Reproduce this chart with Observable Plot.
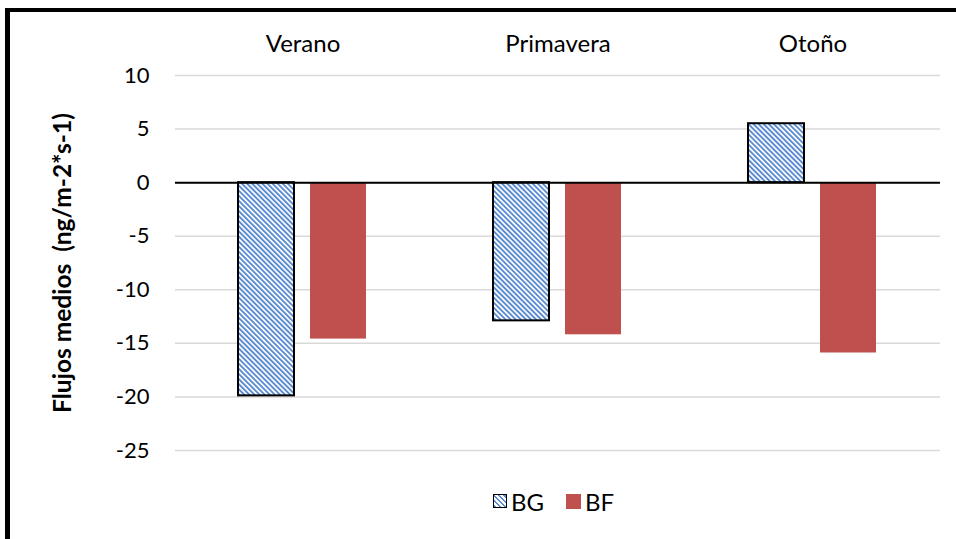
<!DOCTYPE html>
<html><head><meta charset="utf-8">
<script src="https://cdn.jsdelivr.net/npm/d3@7"></script>
<script src="https://cdn.jsdelivr.net/npm/@observablehq/plot@0.6"></script>
<style>
body{margin:0;background:#fff;font-family:Lato,"Open Sans",sans-serif;color:#000;}
#wrap{position:relative;width:956px;height:539px;overflow:hidden;background:#fff;}
#frame{position:absolute;left:5px;top:8px;right:-10px;bottom:-10px;border-top:4px solid #000;border-left:5px solid #000;pointer-events:none;}
#chart{position:absolute;left:0;top:0;}
#ylabel{position:absolute;left:61px;top:263px;transform:translate(-50%,-50%) rotate(-90deg);white-space:pre;font-weight:bold;font-size:24.5px;}
#legend{position:absolute;left:493px;top:487px;height:28px;display:flex;align-items:center;font-size:24px;}
.sw{width:12px;height:12px;display:inline-block;margin-right:4px;}
.sw.bg{border:1.5px solid #000;background:repeating-linear-gradient(45deg,#5a8ad0 0 1.9px,#fff 1.9px 3.6px);}
.sw.bf{width:15px;height:15px;background:#c0504d;margin-left:22px;}
</style></head>
<body>
<div id="wrap">
  <div id="chart"></div>
  <div id="ylabel">Flujos medios  (ng/m-2*s-1)</div>
  <div id="legend"><span class="sw bg"></span><span>BG</span><span class="sw bf"></span><span>BF</span></div>
  <div id="frame"></div>
</div>
<script>
const seasons = ["Verano", "Primavera", "Otoño"];
const seriesNames = ["BG", "BF"];
const bgValues = [-19.9, -12.9, 5.5];
const bfValues = [-14.6, -14.2, -15.9];
const yTicks = [-25, -20, -15, -10, -5, 0, 5, 10];

const bgData = seasons.map((s, i) => ({season: s, series: "BG", value: bgValues[i]}));
const bfData = seasons.map((s, i) => ({season: s, series: "BF", value: bfValues[i]}));

const chart = Plot.plot({
  width: 956,
  height: 480,
  marginLeft: 174,
  marginRight: 16,
  marginTop: 75,
  marginBottom: 30,
  style: {fontFamily: "Lato, 'Open Sans', sans-serif", fontSize: "22px", color: "#000", background: "transparent"},
  fx: {domain: seasons, padding: 0, label: null},
  x: {domain: seriesNames, paddingInner: 0.22, paddingOuter: 0.86, axis: null},
  y: {domain: [-25, 10], label: null},
  marks: [
    Plot.axisFx({anchor: "top", tickSize: 0, tickPadding: 24, fontSize: 24, label: null}),
    Plot.axisY({ticks: yTicks, tickSize: 0, tickPadding: 26, tickFormat: d => String(d), fontSize: 22, label: null}),
    Plot.gridY(yTicks, {stroke: "#d9d9d9", strokeOpacity: 1, strokeWidth: 1.5}),
    Plot.barY(bgData, {fx: "season", x: "series", y: "value", fill: "url(#hatchBG)", stroke: "#000", strokeWidth: 2}),
    Plot.barY(bfData, {fx: "season", x: "series", y: "value", fill: "#c0504d"}),
    Plot.ruleY([0], {stroke: "#000", strokeWidth: 2})
  ]
});

d3.select(chart).insert("defs", ":first-child").html(
  '<pattern id="hatchBG" patternUnits="userSpaceOnUse" width="3.6" height="3.6" patternTransform="rotate(-45)">' +
  '<rect width="3.6" height="3.6" fill="#fff"/><rect width="1.9" height="3.6" fill="#5a8ad0"/></pattern>'
);

document.getElementById("chart").appendChild(chart);
</script>
</body></html>
